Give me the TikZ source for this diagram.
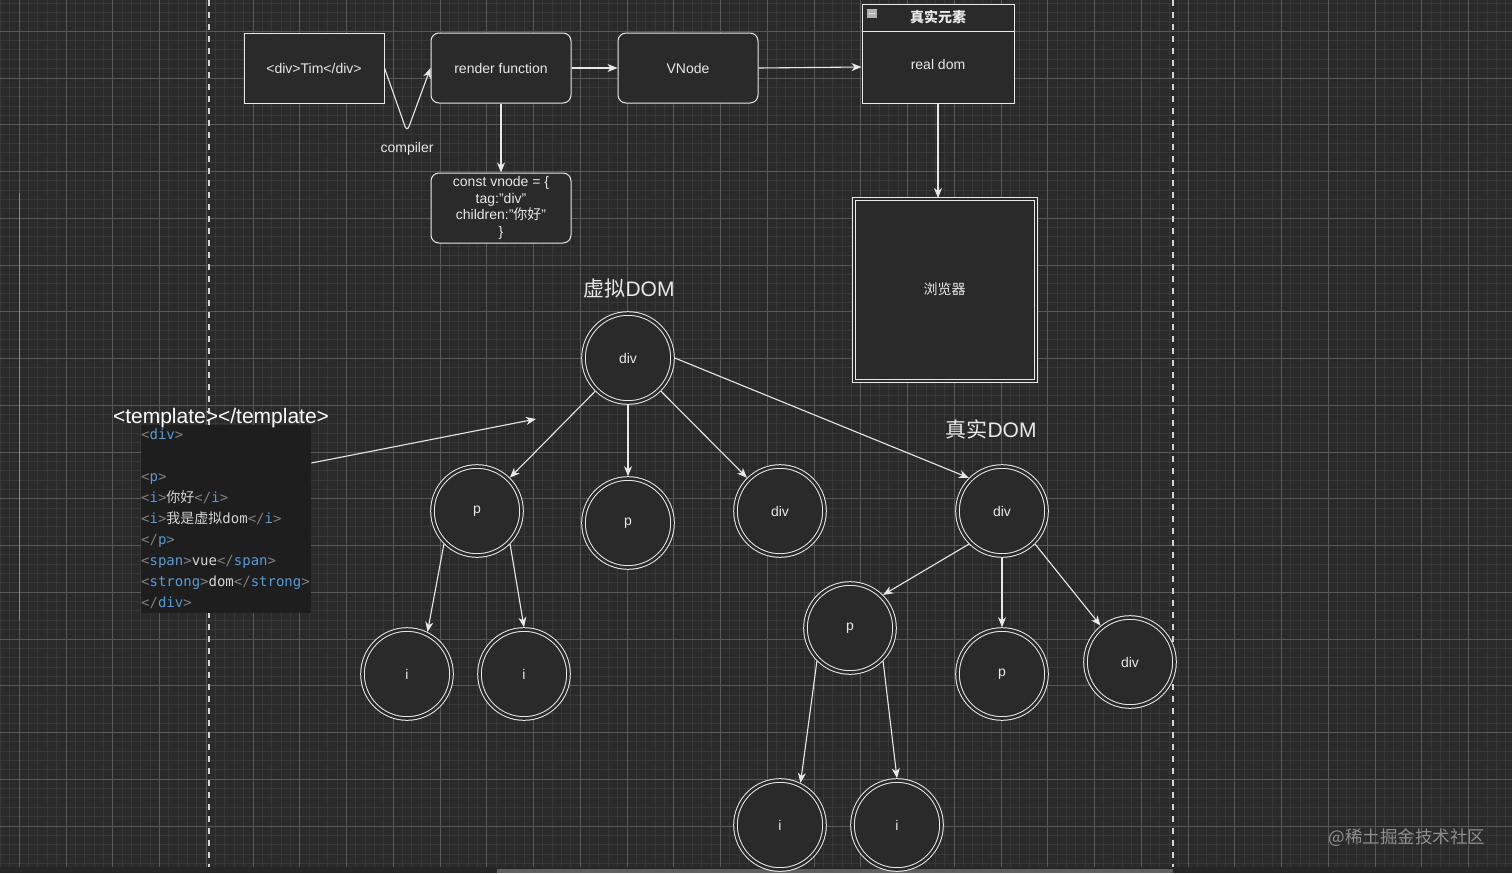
\documentclass[tikz,border=0pt]{standalone}
\usepackage{fontspec}
\setmainfont{Liberation Sans}
\newfontfamily\cjk{Noto Sans CJK SC}
\newfontfamily\codefont{DejaVu Sans Mono}
\usetikzlibrary{arrows.meta}

\definecolor{canvas}{HTML}{2A2A2A}
\definecolor{minorline}{HTML}{373737}
\definecolor{majorline}{HTML}{585858}
\definecolor{edge}{HTML}{E8E8E8}
\definecolor{codebg}{HTML}{1E1E1E}
\definecolor{codegray}{HTML}{808080}
\definecolor{codeblue}{HTML}{569CD6}
\definecolor{codetext}{HTML}{D4D4D4}
\definecolor{markgray}{HTML}{8E8E8E}

\newcommand{\tagopen}[1]{\textcolor{codegray}{<}\textcolor{codeblue}{#1}\textcolor{codegray}{>}}
\newcommand{\tagclose}[1]{\textcolor{codegray}{</}\textcolor{codeblue}{#1}\textcolor{codegray}{>}}

\begin{document}
\begin{tikzpicture}[x=1pt, y=-1pt,
    >={Stealth[length=10pt, width=8pt, inset=3pt]},
    every node/.style={text=edge, font=\fontsize{14}{16.5}\selectfont},
    box/.style={draw=edge, line width=1pt, fill=canvas, minimum width=140pt, minimum height=70pt, inner sep=2pt},
    roundbox/.style={box, rounded corners=8pt},
    dom/.style={circle, draw=edge, double=canvas, double distance=2.6pt, line width=1pt, fill=canvas, minimum size=89pt, inner sep=0pt, outer sep=2.3pt},
    link/.style={->, draw=edge, line width=1.1pt},
    guide/.style={draw=edge!90!canvas, line width=2pt, dash pattern=on 6pt off 6pt},
    title/.style={font=\fontsize{21}{24}\selectfont},
    codeblock/.style={fill=codebg, text=codetext, font=\codefont\fontsize{14}{21}\selectfont, align=left, text width=170pt, inner xsep=0pt, inner ysep=0pt, minimum height=188pt}]

    % Canvas and grid
    \useasboundingbox (0,0) rectangle (1512,873);
    \fill[canvas] (0,0) rectangle (1512,873);
    \foreach \x in {0,...,161} \draw[minorline, line width=1pt] ({0.55+9.35*\x},0) -- ++(0,867);
    \foreach \y in {0,...,92} \draw[minorline, line width=1pt] (0,{3.2+9.35*\y}) -- ++(1512,0);
    \foreach \x in {0,...,31} \draw[majorline, line width=1pt] ({19.25+46.75*\x},0) -- ++(0,867);
    \foreach \y in {0,...,17} \draw[majorline, line width=1pt] (0,{31.25+46.75*\y}) -- ++(1512,0);
    \draw[white!45!canvas, line width=1pt] (19,193) -- (19,620);
    \fill[black!85] (0,867) rectangle (1512,873);
    \fill[white!25!canvas] (497,869) rectangle (1173,873);

    % Page borders
    \draw[guide] (209,0) -- (209,867);
    \draw[guide] (1173,0) -- (1173,867);

    % Pipeline boxes
    \node[box] (tim) at (314,68) {<div>Tim</div>};
    \node[roundbox] (render) at (501,68) {render function};
    \node[roundbox] (vnode) at (688,68) {VNode};
    \node[roundbox, align=center] (vobj) at (501,208) {const vnode = \{\\tag:"div"\\children:"{\cjk 你好}"\\\}};

    % Real element box
    \node[box, minimum width=152pt, minimum height=27pt] (realhead) at (938,17.5) {{\cjk\bfseries 真实元素}};
    \node[box, minimum width=152pt, minimum height=72pt] (realbody) at (938,67) {\raisebox{6pt}{real dom}};
    \fill[gray!60] (867,9) rectangle (877,18);
    \draw[edge, line width=1.3pt] (869,13.5) -- (875,13.5);
    \node[draw=edge, double=canvas, double distance=2pt, line width=1pt, fill=canvas, minimum width=182pt, minimum height=182pt] (browser) at (944.5,289.5) {{\cjk 浏览器}};

    % Pipeline arrows
    \coordinate (cbend) at (407,132);
    \draw[link, rounded corners=6pt] (tim.east) -- (cbend) -- (render.west);
    \node (compiler) at (407,149) {compiler};
    \draw[link] (render) -- (vnode);
    \draw[link] (render.south) -- (vobj.north);
    \draw[link] (vnode.east) -- (realbody.west);
    \draw[link] (realbody.south) -- (realbody.south |- browser.north);

    % Template source
    \node[codeblock, anchor=north west] (code) at (141,425) {\tagopen{div}\\
        \mbox{}\\
        \tagopen{p}\\
        \tagopen{i}{\cjk 你好}\tagclose{i}\\
        \tagopen{i}{\cjk 我是虚拟}dom\tagclose{i}\\
        \tagclose{p}\\
        \tagopen{span}vue\tagclose{span}\\
        \tagopen{strong}dom\tagclose{strong}\\
        \tagclose{div}};
    \node[title, text=white] (tpl) at (221,418) {<template></template>};
    \coordinate (tplend) at (536,419);
    \draw[link] ([yshift=-38pt]code.north east) -- (tplend);

    % Tree labels
    \node[title] (vlabel) at (629,289) {{\cjk 虚拟}DOM};
    \node[title] (rlabel) at (991,429) {{\cjk 真实}DOM};

    % Tree nodes
    \node[dom] (root) at (628,358) {div};
    \node[dom] (pleft) at (477,511) {p};
    \node[dom] (pmid) at (628,523) {p};
    \node[dom] (divmid) at (780,511) {div};
    \node[dom] (divright) at (1002,511) {div};
    \node[dom] (ione) at (407,674) {i};
    \node[dom] (itwo) at (524,674) {i};
    \node[dom] (pright) at (850,628) {p};
    \node[dom] (pbelow) at (1002,674) {p};
    \node[dom] (divfar) at (1130,662) {div};
    \node[dom] (ithree) at (780,825) {i};
    \node[dom] (ifour) at (897,825) {i};

    % Tree edges
    \draw[link] (root) -- (pleft);
    \draw[link] (root) -- (pmid);
    \draw[link] (root) -- (divmid);
    \draw[link] (root.east) -- (divright.north west);
    \draw[link] (pleft.south west) -- (ione.64);
    \draw[link] (pleft.south east) -- (itwo.north);
    \draw[link] (divright.south west) -- (pright.north east);
    \draw[link] (divright) -- (pbelow);
    \draw[link] (divright.south east) -- (divfar.129);
    \draw[link] (pright.south west) -- (ithree.64);
    \draw[link] (pright.south east) -- (ifour.north);

    % Watermark
    \node[text=markgray, font=\cjk\fontsize{17.5}{20}\selectfont] (mark) at (1407,838) {@稀土掘金技术社区};
\end{tikzpicture}
\end{document}
